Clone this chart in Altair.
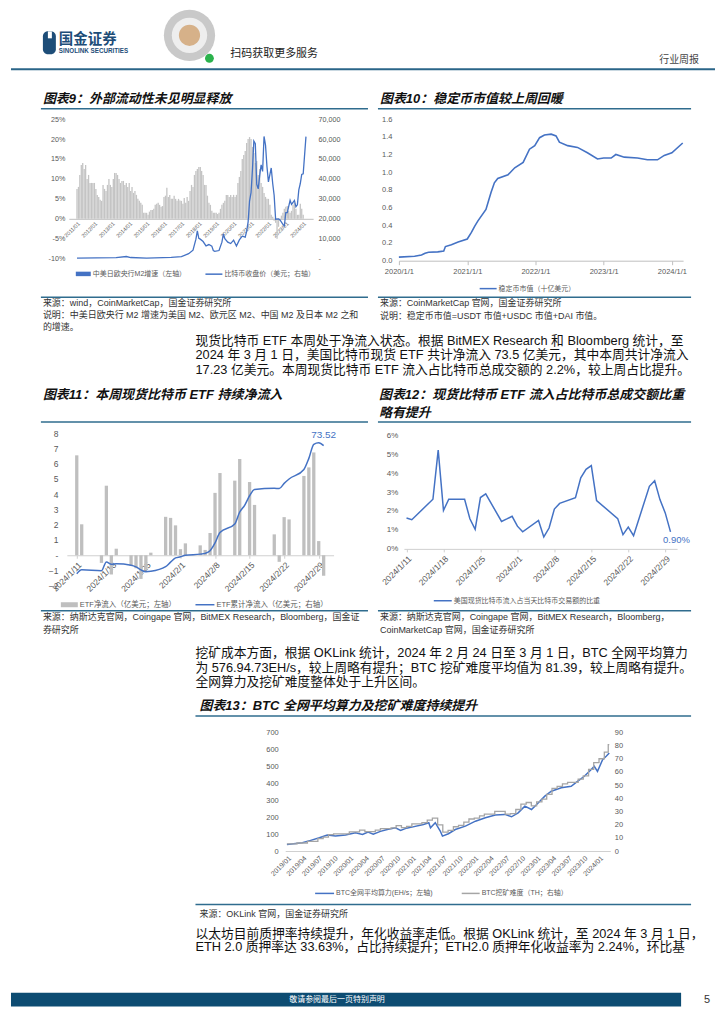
import altair as alt
import pandas as pd

# ---------------------------------------------------------------- data
# Chart 9: M2 growth (%) monthly from 2011-01, BTC close price (USD)
m2_growth_2011 = [7.5, 8, 11, 13.5, 14, 12.5, 13.5, 10, 11, 9, 9, 9]
m2_growth_2012 = [9, 7.5, 6, 5.5, 4.8, 4.5, 8.5, 7.5, 7, 8.5, 10, 8.5]
m2_growth_2013 = [8, 10, 11.5, 11.5, 11, 10, 9, 9.5, 9.5, 8.5, 9, 8]
m2_growth_2014 = [9, 7, 8, 6.5, 7, 6, 5, 4.5, 4, 3.5, 1.5, 1.5]
m2_growth_2015 = [1.5, 1, 1.8, 2.2, 2.2, 2.5, 3.5, 3.8, 4, 3.5, 3, 3.2]
m2_growth_2016 = [5.5, 5.8, 7.8, 5.5, 6, 5, 5, 5.8, 5, 4.5, 5, 4.6]
m2_growth_2017 = [4.5, 3.8, 5.2, 4, 5.5, 4.5, 7, 8.5, 8, 11, 12, 12.5]
m2_growth_2018 = [13, 13, 12, 11, 8.5, 8.5, 5.8, 4, 3.5, 2, 1.5, 1.5]
m2_growth_2019 = [1.5, 1.2, 1.5, 2.5, 3.5, 4, 4.5, 6, 6, 5.5, 6, 5.5]
m2_growth_2020 = [6, 5.5, 6, 9, 10.5, 12, 15, 16, 17, 19, 20, 20.5]
m2_growth_2021 = [20, 18, 16.5, 14, 14.5, 11, 12.5, 9, 8, 6.5, 5.5, 5]
m2_growth_2022 = [5, 3.5, 1, 0.5, -0.5, -1, -5, -2, -0.5, 0.8, 1.5, 2.5]
m2_growth_2023 = [3, 3.2, 2, 1.5, 2, 3.5, 4, 2.5, 1, 1, 3.8, 2.5]
m2_growth_2024 = [1]
m2_years = [2011, 2012, 2013, 2014, 2015, 2016, 2017, 2018, 2019, 2020, 2021, 2022, 2023, 2024]

btc_dates = ["2011-01", "2013-04", "2013-11", "2014-02", "2015-01", "2016-06", "2017-01",
             "2017-06", "2017-09", "2017-11", "2017-12", "2018-01", "2018-02", "2018-04",
             "2018-06", "2018-08", "2018-10", "2018-11", "2018-12", "2019-03", "2019-05",
             "2019-06", "2019-07", "2019-09", "2019-11", "2020-01", "2020-03", "2020-05",
             "2020-07", "2020-09", "2020-10", "2020-11", "2020-12", "2021-01", "2021-02",
             "2021-03", "2021-04", "2021-05", "2021-06", "2021-07", "2021-08", "2021-09",
             "2021-10", "2021-11", "2021-12", "2022-01", "2022-03", "2022-04", "2022-05",
             "2022-06", "2022-08", "2022-09", "2022-11", "2022-12", "2023-01", "2023-02",
             "2023-04", "2023-05", "2023-07", "2023-08", "2023-09", "2023-10", "2023-11",
             "2023-12", "2024-01", "2024-02-28"]
btc_price = [300, 500, 1100, 600, 250, 650, 1000, 2500, 4300, 9800, 13900, 10200, 9800, 8600,
             6400, 7100, 6300, 4100, 3700, 4100, 8300, 12400, 10000, 8300, 7600, 9300, 6400, 9400,
             11300, 10800, 13700, 18500, 28900, 33100, 45200, 59000, 57700, 37300, 35000, 41500,
             47100, 43800, 61300, 57000, 46300, 38500, 45500, 37700, 31800, 19800, 20000, 19400,
             17200, 16500, 23100, 23100, 29300, 27200, 29200, 26000, 27000, 34500, 37700, 42300,
             42600, 61200]

# Chart 10: stablecoin market value
sc_dates = ["2020-01-01", "2020-03-25", "2020-05-01", "2020-05-20", "2020-06-08", "2020-07-27",
            "2020-08-28", "2020-09-06", "2020-10-08", "2020-11-13", "2021-01-01", "2021-01-23",
            "2021-02-10", "2021-02-27", "2021-04-11", "2021-05-08", "2021-05-26", "2021-06-13",
            "2021-08-07", "2021-09-12", "2021-10-27", "2021-11-30", "2021-12-28", "2022-01-23",
            "2022-02-18", "2022-03-26", "2022-04-21", "2022-05-09", "2022-06-22", "2022-08-14",
            "2022-10-06", "2022-11-29", "2023-01-01", "2023-02-10", "2023-03-07", "2023-04-21",
            "2023-07-01", "2023-08-23", "2023-10-16", "2023-11-21", "2024-01-01", "2024-02-28"]
sc_value = [0.04, 0.05, 0.065, 0.085, 0.095, 0.10, 0.11, 0.16, 0.18, 0.21, 0.245, 0.32,
            0.39, 0.45, 0.58, 0.77, 0.88, 0.93, 0.97, 1.05, 1.11, 1.26, 1.30, 1.39,
            1.42, 1.43, 1.41, 1.34, 1.30, 1.28, 1.22, 1.15, 1.16, 1.16, 1.20, 1.17,
            1.16, 1.14, 1.14, 1.19, 1.22, 1.33]

# Chart 11/12: spot BTC ETF
etf_dates = ["2024-01-11", "2024-01-12", "2024-01-16", "2024-01-17", "2024-01-18", "2024-01-19",
             "2024-01-22", "2024-01-23", "2024-01-24", "2024-01-25", "2024-01-26", "2024-01-29",
             "2024-01-30", "2024-01-31", "2024-02-01", "2024-02-02", "2024-02-05", "2024-02-06",
             "2024-02-07", "2024-02-08", "2024-02-09", "2024-02-12", "2024-02-13", "2024-02-14",
             "2024-02-15", "2024-02-16", "2024-02-20", "2024-02-21", "2024-02-22", "2024-02-23",
             "2024-02-26", "2024-02-27", "2024-02-28", "2024-02-29", "2024-03-01"]
etf_flow = [6.55, 2.03, -0.5, 4.56, -1.26, 0.43, -0.7, -0.85, -1.55, -0.95, 0.17, 2.52,
            2.45, 1.96, 0.4, 0.78, 0.65, 0.35, 1.46, 4.09, 5.39, 4.89, 6.31, 0.0,
            4.8, 3.3, 1.37, -0.43, 2.5, 2.35, 5.2, 5.76, 6.74, 0.93, -1.35]
etf_cum = [6.3, 8.4, 7.9, 12.5, 11.3, 11.5, 10.8, 9.9, 8.3, 7.4, 7.6, 10.0,
           12.4, 14.6, 15.2, 16.0, 16.6, 17.0, 18.4, 22.5, 27.9, 32.4, 38.7, 42.2,
           47.2, 50.5, 51.1, 51.0, 53.7, 56.0, 61.0, 66.8, 74.2, 75.0, 73.52]
etf_share = [1.63, 1.54, 2.62, 5.21, 2.03, 2.62, 2.62, 1.59, 1.03, 2.71, 2.9, 1.45,
             1.58, 1.72, 1.2, 0.9, 1.5, 0.63, 1.1, 2.1, 2.4, 2.7, 3.75, 4.2,
             4.4, 2.55, 1.6, 0.75, 1.15, 0.7, 3.3, 3.6, 2.6, 1.9, 0.9]

# Chart 13: hash rate (EH/s) and difficulty (T)
hr_dates = ["2019-01-01", "2019-04-01", "2019-05-20", "2019-07-10", "2019-08-25", "2019-10-12",
            "2019-12-10", "2020-02-06", "2020-03-18", "2020-04-20", "2020-05-20", "2020-07-01",
            "2020-08-10", "2020-09-27", "2020-10-27", "2020-12-01", "2021-01-01", "2021-03-10",
            "2021-04-10", "2021-04-20", "2021-05-18", "2021-06-16", "2021-06-29", "2021-08-03",
            "2021-09-12", "2021-11-10", "2022-01-08", "2022-03-07", "2022-05-04", "2022-06-29",
            "2022-08-07", "2022-09-15", "2022-10-24", "2022-12-02", "2023-01-01", "2023-02-18",
            "2023-03-28", "2023-05-25", "2023-07-22", "2023-08-30", "2023-10-07", "2023-11-15",
            "2023-12-04", "2023-12-23", "2024-01-22", "2024-02-12", "2024-03-01"]
hr_value = [39, 49, 63, 78, 94, 88, 94, 108, 98, 112, 100, 116, 127, 137, 122, 135, 141, 157,
            167, 137, 167, 118, 88, 102, 127, 147, 176, 196, 212, 216, 202, 225, 265, 245, 275,
            324, 353, 373, 382, 412, 441, 480, 500, 470, 539, 559, 578]
diff_dates = ["2019-01-01", "2019-03-01", "2019-05-01", "2019-07-01", "2019-08-01", "2019-09-01",
              "2019-10-01", "2019-12-01", "2020-01-01", "2020-03-01", "2020-04-01", "2020-06-01",
              "2020-07-01", "2020-09-01", "2020-10-01", "2020-11-01", "2020-12-01", "2021-01-01",
              "2021-03-01", "2021-04-01", "2021-05-01", "2021-06-01", "2021-07-01", "2021-08-01",
              "2021-09-01", "2021-10-01", "2021-11-01", "2021-12-01", "2022-01-01", "2022-02-01",
              "2022-03-01", "2022-05-01", "2022-07-01", "2022-08-01", "2022-09-01", "2022-10-01",
              "2022-11-01", "2022-12-01", "2023-01-01", "2023-02-01", "2023-03-01", "2023-04-01",
              "2023-05-01", "2023-06-01", "2023-07-01", "2023-09-01", "2023-10-01", "2023-11-01",
              "2023-12-01", "2024-01-01", "2024-02-01", "2024-02-24", "2024-03-01"]
diff_value = [5.5, 6.1, 7.3, 9.4, 10.5, 12.4, 13.0, 13.0, 14.5, 15.9, 14.7, 15.8,
              17.0, 17.6, 19.3, 17.8, 18.7, 20.6, 21.6, 23.4, 25.0, 19.9, 14.4, 15.6,
              18.4, 19.5, 22.0, 24.3, 25.0, 26.6, 28.0, 30.0, 28.0, 28.4, 31.5, 35.6,
              36.8, 34.2, 37.3, 39.4, 43.0, 47.5, 49.0, 51.0, 52.0, 54.5, 57.0, 62.0,
              67.0, 70.0, 75.0, 80.7, 80.7]

# ---------------------------------------------------------------- style
LAT = "Liberation Sans, Noto Sans CJK SC"
BLUE = "#4472c4"
RULE = "#2f6c8e"
LBL = "#595959"
one = pd.DataFrame({"a": [0]})


def loc(s):
    if len(s) == 7:
        s = s + "-01"
    return s + "T00:00:00"


def DT(s, hours=0):
    y, m, d = (int(p) for p in s.split("-"))
    if hours:
        return alt.DateTime(year=y, month=m, date=d, hours=hours)
    return alt.DateTime(year=y, month=m, date=d)


def spacer(w, h=1):
    return alt.Chart(one).mark_point(opacity=0).encode(
        x=alt.value(0), y=alt.value(0)).properties(width=w, height=h)


# ---------------------------------------------------------------- page decorations
deco = []


def T(x, y, s, size=9, color="#222", weight="normal", style="normal", align="left"):
    deco.append(alt.Chart(one).mark_text(
        text=s, align=align, baseline="middle", fontSize=size, color=color,
        fontWeight=weight, fontStyle=style, font=LAT).encode(
        x=alt.value(x - 8), y=alt.value(y - 8)))


def R(x1, x2, y, color=RULE, w=1.5):
    deco.append(alt.Chart(one).mark_rule(color=color, strokeWidth=w).encode(
        x=alt.value(x1 - 8), x2=alt.value(x2 - 8), y=alt.value(y - 8)))


def BOX(x1, x2, y1, y2, color, radius=0):
    deco.append(alt.Chart(one).mark_rect(color=color, cornerRadius=radius).encode(
        x=alt.value(x1 - 8), x2=alt.value(x2 - 8), y=alt.value(y1 - 8), y2=alt.value(y2 - 8)))


def DOT(x, y, r, color):
    deco.append(alt.Chart(one).mark_circle(color=color, opacity=1).encode(
        x=alt.value(x - 8), y=alt.value(y - 8), size=alt.value(3.1416 * r * r)))


# header
BOX(40, 53, 30, 53, "#1d4d78", 5)
BOX(45, 49, 30, 37, "white")
T(56, 39, "国金证券", 14.5, "#1d4d78", "bold")
T(56, 49.5, "SINOLINK SECURITIES", 6.3, "#1d4d78", "bold")
DOT(187, 34, 29, "#c9c9c9")
DOT(187, 34, 20, "#eeeeee")
DOT(187, 34, 12, "#d6b189")
DOT(207, 57, 5, "#2bb24c")
T(228, 53, "扫码获取更多服务", 11, "#222")
T(698, 59, "行业周报", 10, "#444", align="right")
R(8, 714, 68, "#2a6588", 2)

TITLE = dict(size=13, color="#111", weight="bold", style="italic")
SRC = dict(size=9, color="#333")
LEG = dict(size=7, color=LBL)

# chart 9 / 10 frame
T(40, 98, "图表9：外部流动性未见明显释放", **TITLE)
T(378, 98, "图表10：稳定币市值较上周回暖", **TITLE)
R(38, 366, 107.7)
R(376, 690, 107.7)
BOX(73, 88, 271, 275.5, BLUE)
T(90, 273.5, "中美日欧央行M2增速（左轴）", **LEG)
R(203, 220, 273.5, BLUE, 1.5)
T(222, 273.5, "比特币收盘价（美元；右轴）", **LEG)
R(478, 495, 288, BLUE, 1.5)
T(497, 288, "稳定币市值（十亿美元）", **LEG)
R(38, 366, 296.7)
R(376, 690, 296.7)
T(40, 302, "来源：wind，CoinMarketCap，国金证券研究所", **SRC)
T(40, 314.5, "说明：中美日欧央行 M2 增速为美国 M2、欧元区 M2、中国 M2 及日本 M2 之和", **SRC)
T(40, 326.5, "的增速。", **SRC)
T(378, 302, "来源：CoinMarketCap 官网，国金证券研究所", **SRC)
T(378, 315, "说明：稳定币市值=USDT 市值+USDC 市值+DAI 市值。", **SRC)

PARA = dict(size=12.8, color="#111")
T(193, 340.5, "现货比特币 ETF 本周处于净流入状态。根据 BitMEX Research 和 Bloomberg 统计，至", **PARA)
T(193, 355, "2024 年 3 月 1 日，美国比特币现货 ETF 共计净流入 73.5 亿美元，其中本周共计净流入", **PARA)
T(193, 369.5, "17.23 亿美元。本周现货比特币 ETF 流入占比特币总成交额的 2.2%，较上周占比提升。", **PARA)

# chart 11 / 12 frame
T(40, 395, "图表11：本周现货比特币 ETF 持续净流入", **TITLE)
T(377, 395, "图表12：现货比特币 ETF 流入占比特币总成交额比重", **TITLE)
T(377, 412.5, "略有提升", **TITLE)
R(38, 366, 421.7)
R(376, 690, 421.7)
BOX(58, 75, 602.5, 607.5, "#bfbfbf")
T(77, 605, "ETF净流入（亿美元；左轴）", size=7.5, color=LBL)
R(193, 212, 605, BLUE, 1.5)
T(214, 605, "ETF累计净流入（亿美元；右轴）", size=7.5, color=LBL)
R(432, 450, 601, BLUE, 1.5)
T(452, 601, "美国现货比特币流入占当天比特币交易额的比重", **LEG)
R(38, 366, 611)
R(376, 690, 611)
T(40, 617.5, "来源：纳斯达克官网，Coingape 官网，BitMEX Research，Bloomberg，国金证", **SRC)
T(40, 630, "券研究所", **SRC)
T(378, 617.5, "来源：纳斯达克官网，Coingape 官网，BitMEX Research，Bloomberg，", **SRC)
T(378, 630, "CoinMarketCap 官网，国金证券研究所", **SRC)

T(193, 653.5, "挖矿成本方面，根据 OKLink 统计，2024 年 2 月 24 日至 3 月 1 日，BTC 全网平均算力", **PARA)
T(193, 668, "为 576.94.73EH/s，较上周略有提升；BTC 挖矿难度平均值为 81.39，较上周略有提升。", **PARA)
T(193, 682.5, "全网算力及挖矿难度整体处于上升区间。", **PARA)

# chart 13 frame
T(197, 706.5, "图表13：BTC 全网平均算力及挖矿难度持续提升", **TITLE)
R(193, 690, 716.7)
R(313, 332, 894.5, BLUE, 1.5)
T(334, 894.5, "BTC全网平均算力(EH/s；左轴)", **LEG)
R(460, 478, 894.5, "#a5a5a5", 1.5)
T(480, 894.5, "BTC挖矿难度（TH；右轴）", **LEG)
R(193, 690, 905.7)
T(197, 915, "来源：OKLink 官网，国金证券研究所", **SRC)

T(193, 935, "以太坊目前质押率持续提升，年化收益率走低。根据 OKLink 统计，至 2024 年 3 月 1 日，", **PARA)
T(193, 948.5, "ETH 2.0 质押率达 33.63%，占比持续提升；ETH2.0 质押年化收益率为 2.24%，环比基", **PARA)

# footer
BOX(8, 680, 994, 1008, "#0d4c72")
T(287, 1001, "敬请参阅最后一页特别声明", 8, "white")
T(703, 1001, "5", 11, "#333")

deco_panel = alt.layer(*deco).properties(width=706, height=110)

# ---------------------------------------------------------------- chart 9
m2_all = []
for arr in [m2_growth_2011, m2_growth_2012, m2_growth_2013, m2_growth_2014, m2_growth_2015,
            m2_growth_2016, m2_growth_2017, m2_growth_2018, m2_growth_2019, m2_growth_2020,
            m2_growth_2021, m2_growth_2022, m2_growth_2023, m2_growth_2024]:
    m2_all.extend(arr)
m2_month = [f"{m2_years[i // 12]}-{i % 12 + 1:02d}" for i in range(len(m2_all))]
df_m2 = pd.DataFrame({"date": [loc(s) for s in m2_month], "v": m2_all})
df_btc = pd.DataFrame({"date": [loc(s) for s in btc_dates], "p": btc_price})

x9_scale = alt.Scale(domain=[DT("2010-10-26"), DT("2024-04-14")])
x9_axis = alt.Axis(values=[DT(f"{y}-01-01") for y in m2_years], format="%Y/%m", labelAngle=-45,
                   labelFontSize=5.5, labelColor=LBL, offset=-40, domainColor="#bfbfbf",
                   ticks=False, labelPadding=2, title=None, grid=False, labelOverlap=False,
                   labelFlush=False)
bars9 = alt.Chart(df_m2).mark_bar(color="#c4c4c4", size=1.3).encode(
    x=alt.X("date:T", scale=x9_scale, axis=x9_axis),
    y=alt.Y("v:Q", scale=alt.Scale(domain=[-10, 25]),
            axis=alt.Axis(values=[-10, -5, 0, 5, 10, 15, 20, 25], labelExpr="datum.value + '%'",
                          labelFontSize=7.2, labelColor=LBL, domain=False, ticks=False, grid=False,
                          labelPadding=4, title=None, labelOverlap=False)))
line9 = alt.Chart(df_btc).mark_line(color=BLUE, strokeWidth=1.3).encode(
    x=alt.X("date:T", scale=x9_scale, axis=x9_axis),
    y=alt.Y("p:Q", scale=alt.Scale(domain=[0, 70000]),
            axis=alt.Axis(orient="right", values=list(range(0, 70001, 10000)),
                          labelExpr="datum.value == 0 ? '-' : format(datum.value, ',')",
                          labelFontSize=7.2, labelColor=LBL, domain=False, ticks=False, grid=False,
                          labelPadding=5, title=None, labelOverlap=False)))
chart9 = alt.layer(bars9, line9).resolve_scale(y="independent").properties(width=245, height=140)

# ---------------------------------------------------------------- chart 10
df_sc = pd.DataFrame({"date": [loc(s) for s in sc_dates], "v": sc_value})
chart10 = alt.Chart(df_sc).mark_line(color=BLUE, strokeWidth=1.6).encode(
    x=alt.X("date:T", scale=alt.Scale(domain=[DT("2020-01-01"), DT("2024-03-01")]),
            axis=alt.Axis(values=[DT(f"{y}-01-01") for y in range(2020, 2025)], format="%Y/%-m/%-d",
                          labelAngle=0, labelFontSize=7.5, labelColor=LBL, domainColor="#bfbfbf",
                          tickColor="#bfbfbf", tickSize=4, labelPadding=3, title=None, grid=False,
                          labelFlush=False, labelOverlap=False)),
    y=alt.Y("v:Q", scale=alt.Scale(domain=[0, 1.6]),
            axis=alt.Axis(values=[0, 0.2, 0.4, 0.6, 0.8, 1.0, 1.2, 1.4, 1.6], format=".1f",
                          labelFontSize=7.5, labelColor=LBL, domain=False, ticks=False, grid=False,
                          labelPadding=7, title=None, labelOverlap=False))).properties(width=285, height=142)

# ---------------------------------------------------------------- chart 11
df_etf = pd.DataFrame({"date": [loc(s) for s in etf_dates], "flow": etf_flow,
                       "cum": etf_cum, "share": etf_share})
week_ticks = [DT(s) for s in ["2024-01-11", "2024-01-18", "2024-01-25", "2024-02-01",
                              "2024-02-08", "2024-02-15", "2024-02-22", "2024-02-29"]]
x11_scale = alt.Scale(domain=[DT("2024-01-10"), DT("2024-03-02")])
x11_axis = alt.Axis(values=week_ticks, format="%Y/%-m/%-d", labelAngle=-45, labelFontSize=8.5,
                    labelColor=LBL, offset=-30.6, domainColor="#d0d0d0", tickColor="#d0d0d0",
                    tickSize=3, labelPadding=2, title=None, grid=False, labelOverlap=False,
                    labelFlush=False)
bars11 = alt.Chart(df_etf).mark_bar(color="#bfbfbf", size=3.3).encode(
    x=alt.X("date:T", scale=x11_scale, axis=x11_axis),
    y=alt.Y("flow:Q", scale=alt.Scale(domain=[-2, 8]),
            axis=alt.Axis(values=list(range(-2, 9)),
                          labelExpr="datum.value == 0 ? '-' : datum.label",
                          labelFontSize=8.5, labelColor=LBL, domain=False, ticks=False, grid=False,
                          labelPadding=9, title=None, labelOverlap=False)))
line11 = alt.Chart(df_etf).mark_line(color=BLUE, strokeWidth=1.5, interpolate="monotone").encode(
    x=alt.X("date:T", scale=x11_scale, axis=x11_axis),
    y=alt.Y("cum:Q", scale=alt.Scale(domain=[0, 80]),
            axis=alt.Axis(orient="right", values=list(range(0, 81, 10)),
                          labelExpr="datum.value == 0 ? '-' : datum.label",
                          labelFontSize=8.5, labelColor=LBL, domain=False, ticks=False, grid=False,
                          labelPadding=8, title=None, labelOverlap=False)))
lab11 = alt.Chart(df_etf.tail(1)).mark_text(color=BLUE, fontSize=10, font=LAT, align="center",
                                             dy=-11, dx=0).encode(
    x=alt.X("date:T", scale=x11_scale, axis=x11_axis),
    y=alt.Y("cum:Q", scale=alt.Scale(domain=[0, 80]), axis=None),
    text=alt.Text("cum:Q", format=".2f"))
chart11 = alt.layer(bars11, alt.layer(line11, lab11)).resolve_scale(y="independent").properties(
    width=267.5, height=153)

# ---------------------------------------------------------------- chart 12
x12_scale = alt.Scale(domain=[DT("2024-01-10", 12), DT("2024-03-02", 6)])
x12_axis = alt.Axis(values=week_ticks, format="%Y/%-m/%-d", labelAngle=-45, labelFontSize=8.5,
                    labelColor=LBL, domainColor="#d0d0d0", tickColor="#d0d0d0", tickSize=3,
                    labelPadding=2, title=None, grid=False, labelOverlap=False,
                    labelFlush=False)
y12_axis = alt.Axis(values=list(range(0, 7)), labelExpr="datum.value + '%'",
                    labelFontSize=8, labelColor=LBL, domain=False, ticks=False, grid=False,
                    labelPadding=6, title=None, labelOverlap=False)
line12 = alt.Chart(df_etf).mark_line(color=BLUE, strokeWidth=1.5).encode(
    x=alt.X("date:T", scale=x12_scale, axis=x12_axis),
    y=alt.Y("share:Q", scale=alt.Scale(domain=[0, 6]), axis=y12_axis))
lab12 = alt.Chart(df_etf.tail(1)).transform_calculate(
    lbl="format(datum.share, '.2f') + '%'").mark_text(
    color=BLUE, fontSize=9.5, font=LAT, align="center", dx=6, dy=8).encode(
    x=alt.X("date:T", scale=x12_scale, axis=x12_axis),
    y=alt.Y("share:Q", scale=alt.Scale(domain=[0, 6]), axis=y12_axis),
    text="lbl:N")
chart12 = alt.layer(line12, lab12).properties(width=274, height=114)

# ---------------------------------------------------------------- chart 13
df_hr = pd.DataFrame({"date": [loc(s) for s in hr_dates], "v": hr_value})
df_diff = pd.DataFrame({"date": [loc(s) for s in diff_dates], "v": diff_value})
q_ticks = [DT(f"{y}-{m:02d}-01") for y in range(2019, 2025) for m in (1, 4, 7, 10)
           if (y, m) <= (2024, 1)]
x13_scale = alt.Scale(domain=[DT("2018-12-22"), DT("2024-03-07")])
x13_axis = alt.Axis(values=q_ticks, format="%Y/%m", labelAngle=-45, labelFontSize=7,
                    labelColor=LBL, domainColor="#d0d0d0", ticks=False, labelPadding=3,
                    title=None, grid=False, labelOverlap=False, labelFlush=False)
line13a = alt.Chart(df_hr).mark_line(color=BLUE, strokeWidth=1.5).encode(
    x=alt.X("date:T", scale=x13_scale, axis=x13_axis),
    y=alt.Y("v:Q", scale=alt.Scale(domain=[0, 700]),
            axis=alt.Axis(values=list(range(0, 701, 100)), labelFontSize=7.5, labelColor=LBL,
                          domain=False, ticks=False, grid=False, labelPadding=7, title=None,
                          labelOverlap=False)))
line13b = alt.Chart(df_diff).mark_line(color="#a5a5a5", strokeWidth=1.3,
                                       interpolate="step-after").encode(
    x=alt.X("date:T", scale=x13_scale, axis=x13_axis),
    y=alt.Y("v:Q", scale=alt.Scale(domain=[0, 90]),
            axis=alt.Axis(orient="right", values=list(range(0, 91, 10)), labelFontSize=7.5,
                          labelColor=LBL, domain=False, ticks=False, grid=False, labelPadding=4,
                          title=None, labelOverlap=False)))
chart13 = alt.layer(line13a, line13b).resolve_scale(y="independent").properties(width=326, height=119)

# ---------------------------------------------------------------- layout
# (nested concat rows take no height in a flush layout, so the spacer rows carry the offsets)
row1 = alt.hconcat(spacer(58), chart9, spacer(86), chart10, spacing=0, bounds="flush")
chart12w = alt.vconcat(spacer(274, 2), chart12, spacing=0, bounds="flush")
row3 = alt.hconcat(spacer(56), chart11, spacer(69.2), chart12w, spacing=0, bounds="flush")
row5 = alt.hconcat(spacer(274.7), chart13, spacing=0, bounds="flush")

page = alt.vconcat(
    deco_panel, row1, spacer(700, 315), row3, spacer(700, 299.7), row5,
    spacing=0, bounds="flush"
).properties(padding=0, background="white").configure_view(stroke=None).configure_axis(
    labelFont="Liberation Sans")

page.save("out.html", embed_options={"renderer": "svg", "actions": False})
